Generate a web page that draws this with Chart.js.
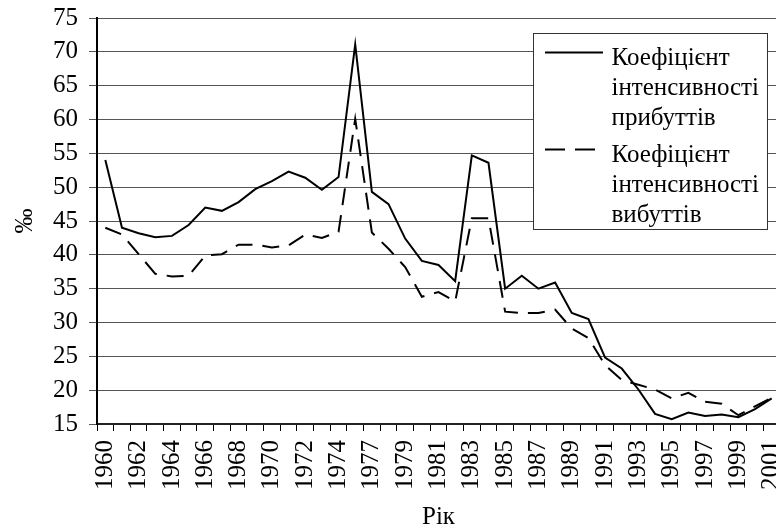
<!DOCTYPE html>
<html>
<head>
<meta charset="utf-8">
<script src="https://cdn.jsdelivr.net/npm/chart.js@4.4.1/dist/chart.umd.min.js"></script>
<style>
  html, body { margin: 0; padding: 0; background: #fff; overflow: hidden; }
  #wrap { width: 776px; height: 526px; overflow: hidden; position: relative; }
  #chart { position: absolute; left: 0; top: 0; }
</style>
</head>
<body>
<div id="wrap"><canvas id="chart" width="790" height="540"></canvas></div>
<script>
const years = ['1960', '1961', '1962', '1963', '1964', '1965', '1966', '1967', '1968', '1969',
               '1970', '1971', '1972', '1973', '1974', '1976', '1977', '1978', '1979', '1980',
               '1981', '1982', '1983', '1984', '1985', '1986', '1987', '1988', '1989', '1990',
               '1991', '1992', '1993', '1994', '1995', '1996', '1997', '1998', '1999', '2000', '2001'];

// коефіцієнт інтенсивності прибуттів, ‰
const arrivals = [54.0, 44.0, 43.2, 42.6, 42.8, 44.4, 47.0, 46.5, 47.8, 49.7,
                  50.9, 52.3, 51.4, 49.6, 51.5, 71.1, 49.3, 47.5, 42.4, 39.1,
                  38.5, 36.1, 54.7, 53.6, 35.0, 36.9, 35.0, 35.9, 31.4, 30.5,
                  24.8, 23.2, 20.1, 16.5, 15.7, 16.7, 16.2, 16.4, 16.0, 17.2, 18.8];

// коефіцієнт інтенсивності вибуттів, ‰
const departures = [44.0, 43.0, 40.1, 37.2, 36.8, 36.9, 39.9, 40.1, 41.5, 41.5,
                    41.1, 41.4, 43.0, 42.5, 43.4, 60.1, 43.3, 40.9, 38.2, 33.8,
                    34.5, 33.1, 45.4, 45.4, 31.6, 31.4, 31.4, 31.9, 29.1, 27.7,
                    23.7, 21.5, 20.8, 20.1, 18.8, 19.6, 18.3, 18.0, 16.3, 17.6, 18.9];

const yTicks = { min: 15, max: 75, step: 5 };

const serif = 'Liberation Serif';

// legend in a framed box, labels wrapped word by word like the original
const boxLegend = {
    id: 'boxLegend',
    afterDraw(chart) {
        const ctx = chart.ctx;
        ctx.save();
        ctx.fillStyle = '#fff';
        ctx.fillRect(533, 33, 235, 197);
        ctx.strokeStyle = '#333';
        ctx.lineWidth = 1;
        ctx.setLineDash([]);
        ctx.strokeRect(533.5, 33.5, 234, 196);

        ctx.font = '25px "' + serif + '"';
        ctx.textBaseline = 'alphabetic';
        let y = 65;
        chart.data.datasets.forEach(ds => {
            ctx.beginPath();
            ctx.setLineDash(ds.borderDash ? [20, 10] : []);
            ctx.lineWidth = 2;
            ctx.strokeStyle = '#000';
            ctx.moveTo(545, y - 12.5);
            ctx.lineTo(603, y - 12.5);
            ctx.stroke();
            ctx.setLineDash([]);
            ctx.fillStyle = '#000';
            ds.label.split(' ').forEach((word, k) => {
                ctx.fillText(word, 611.5, y + k * 30);
            });
            y += 97;
        });
        ctx.restore();
    }
};

const ctx = document.getElementById('chart').getContext('2d');
new Chart(ctx, {
    type: 'line',
    data: {
        labels: years,
        datasets: [{
            label: 'Коефіцієнт інтенсивності прибуттів',
            data: arrivals,
            borderColor: '#000',
            borderWidth: 2,
            pointRadius: 0,
            tension: 0,
            fill: false
        }, {
            label: 'Коефіцієнт інтенсивності вибуттів',
            data: departures,
            borderColor: '#000',
            borderWidth: 2,
            borderDash: [17, 10],
            pointRadius: 0,
            tension: 0,
            fill: false
        }]
    },
    options: {
        responsive: false,
        animation: false,
        layout: {
            padding: { left: 0, top: 18, right: 10, bottom: 0 }
        },
        plugins: {
            legend: { display: false },
            tooltip: { enabled: false }
        },
        scales: {
            x: {
                type: 'category',
                offset: true,
                grid: {
                    offset: true,
                    drawOnChartArea: false,
                    drawTicks: true,
                    tickLength: 7,
                    color: '#000',
                    lineWidth: 1
                },
                border: { color: '#222', width: 2 },
                ticks: {
                    autoSkip: false,
                    maxRotation: 90,
                    minRotation: 90,
                    padding: 9,
                    color: '#000',
                    font: { family: serif, size: 25 },
                    callback: function(value, index) {
                        return index % 2 === 0 ? years[index] : '';
                    }
                },
                title: {
                    display: true,
                    text: 'Рік',
                    color: '#000',
                    font: { family: serif, size: 25, lineHeight: 1.2 },
                    padding: { top: 0, bottom: 8 }
                },
                afterFit: function(scale) {
                    scale.height = 116;
                    scale.paddingLeft = 0;
                    scale.paddingRight = 0;
                }
            },
            y: {
                min: yTicks.min,
                max: yTicks.max,
                grid: {
                    color: '#555',
                    lineWidth: 1,
                    drawTicks: true,
                    tickLength: 8
                },
                border: { color: '#000', width: 2 },
                ticks: {
                    stepSize: yTicks.step,
                    padding: 11,
                    color: '#000',
                    font: { family: serif, size: 25 }
                },
                title: {
                    display: true,
                    text: '‰',
                    color: '#000',
                    font: { family: serif, size: 25, lineHeight: 1.2 },
                    padding: { top: 10, bottom: 0 }
                },
                afterFit: function(scale) {
                    scale.width = 97;
                    scale.paddingTop = 0;
                    scale.paddingBottom = 0;
                }
            }
        }
    },
    plugins: [boxLegend]
});
</script>
</body>
</html>
